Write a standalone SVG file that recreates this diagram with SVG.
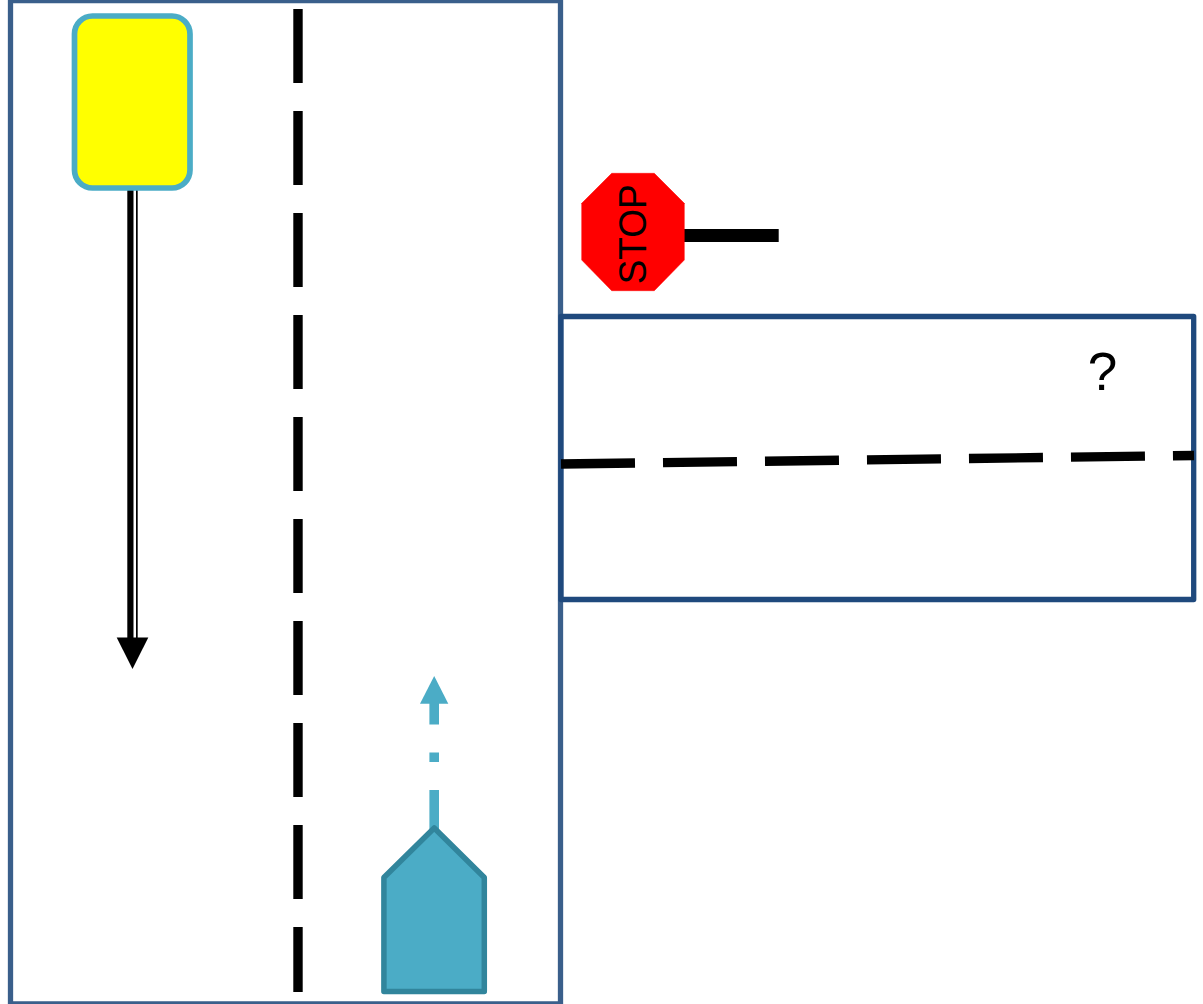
<svg xmlns="http://www.w3.org/2000/svg" width="1203" height="1004" viewBox="0 0 1203 1004">
<style>
.road{fill:none;stroke-width:5.300;stroke-linejoin:round}
.lane{fill:none;stroke:#000;stroke-width:9.400;stroke-dasharray:74 28}
text{font-family:"Liberation Sans",Arial,sans-serif;fill:#000}
</style>
<rect width="1203" height="1004" fill="#fff"/>
<g id="road-main"><rect class="road" x="10.500" y="0.500" width="550" height="1003.500" stroke="#3a5f8b"/></g>
<g id="road-side"><rect class="road" x="561" y="316.500" width="632.700" height="283" stroke="#1f497d"/></g>
<g id="connectors">
<line id="lane-main" class="lane" x1="298" y1="9" x2="298" y2="992"/>
<line id="lane-side" class="lane" x1="561" y1="464" x2="1194" y2="455.500"/>
<g id="arrow-yellow">
<rect x="127.300" y="188" width="10.400" height="450" fill="#000"/>
<rect x="133.500" y="188" width="2.500" height="450" fill="#fff"/>
<polygon points="116.700,637.500 148.300,637.500 132.500,669" fill="#000"/>
</g>
<g id="arrow-blue">
<line x1="434.200" y1="829" x2="434.200" y2="703" stroke="#4bacc6" stroke-width="9.600" stroke-dasharray="39 28 9.500 28 22"/>
<polygon points="420,703.700 448.300,703.700 434.200,676" fill="#4bacc6"/>
</g>
<rect id="stop-pole" x="684" y="229" width="94.700" height="13" fill="#000"/>
</g>
<g id="car-yellow"><rect x="74.500" y="16" width="115.500" height="172" rx="18" ry="18" fill="#ff0" stroke="#4bacc6" stroke-width="5.700"/></g>
<g id="car-blue"><polygon points="434.200,828 484.300,877.500 484.300,991.500 383.900,991.500 383.900,877.500" fill="#4bacc6" stroke="#31859c" stroke-width="5.500" stroke-linejoin="round"/></g>
<g id="stop-sign">
<polygon points="611.700,173.300 654.300,173.300 684.300,203.300 684.300,260 654.300,290.700 611.700,290.700 581.700,260 581.700,203.300" fill="#f00" stroke="#f00" stroke-width="0.500" stroke-linejoin="round"/>
<text transform="translate(645.500 234.300) rotate(-90)" font-size="39" text-anchor="middle" textLength="100" lengthAdjust="spacingAndGlyphs">STOP</text>
</g>
<g id="question"><text x="1102.500" y="390" font-size="53" text-anchor="middle">?</text></g>
</svg>
